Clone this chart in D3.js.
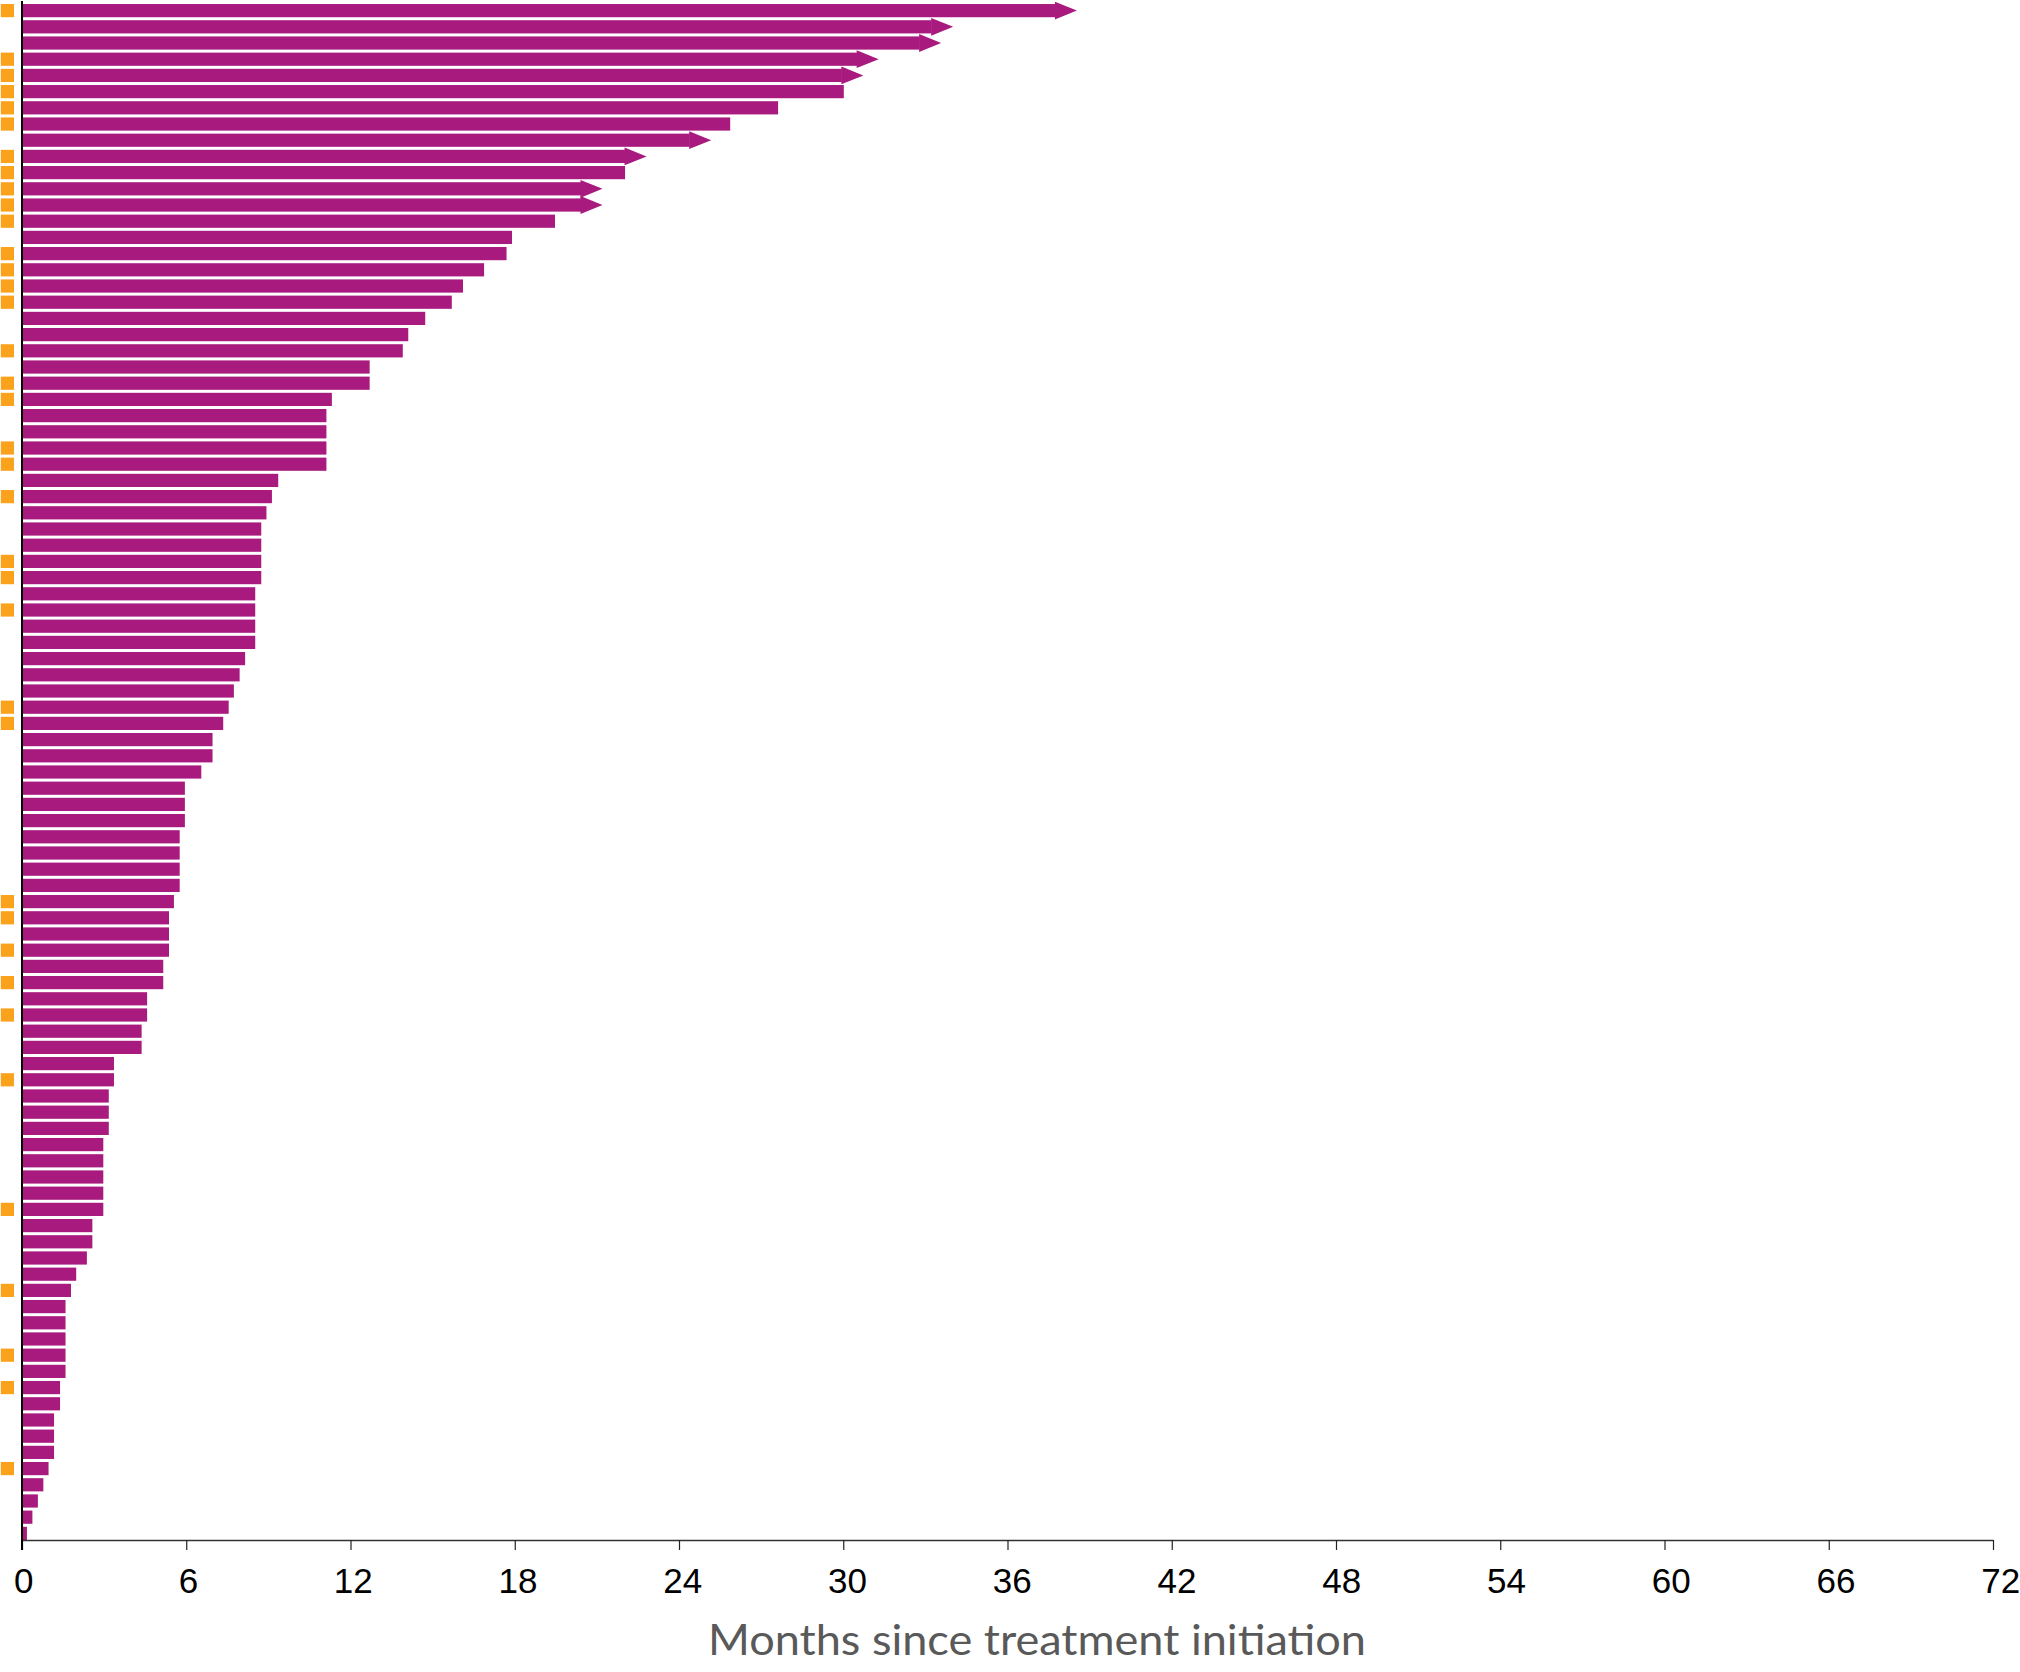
<!DOCTYPE html>
<html>
<head>
<meta charset="utf-8">
<script src="https://cdn.jsdelivr.net/npm/d3@7"></script>
<style>
  html, body { margin: 0; padding: 0; background: #ffffff; }
  svg { display: block; }
</style>
</head>
<body>
<svg id="chart" width="2020" height="1672"></svg>
<script>
// ---------------- DATA ----------------
// Duration (months since treatment initiation) per patient, top to bottom
const months = [
  37.75, 33.23, 32.79, 30.51, 29.95, 30.02, 27.62, 25.87, 24.39, 22.03,
  22.03, 20.42, 20.42, 19.47, 17.90, 17.70, 16.88, 16.11, 15.70, 14.73,
  14.11, 13.91, 12.70, 12.70, 11.32, 11.12, 11.12, 11.12, 11.12, 9.36,
  9.13, 8.93, 8.74, 8.74, 8.74, 8.74, 8.52, 8.52, 8.52, 8.52,
  8.15, 7.95, 7.74, 7.55, 7.35, 6.96, 6.96, 6.55, 5.95, 5.95,
  5.95, 5.76, 5.76, 5.76, 5.76, 5.55, 5.37, 5.37, 5.37, 5.16,
  5.16, 4.57, 4.57, 4.37, 4.37, 3.36, 3.36, 3.17, 3.17, 3.17,
  2.97, 2.97, 2.97, 2.97, 2.97, 2.57, 2.57, 2.37, 1.98, 1.79,
  1.59, 1.59, 1.59, 1.59, 1.59, 1.39, 1.39, 1.17, 1.17, 1.17,
  0.97, 0.78, 0.58, 0.38, 0.18
];
// Rows whose treatment is ongoing (drawn with an arrow head)
const ongoingRows = [0, 1, 2, 3, 4, 8, 9, 11, 12];
// Rows flagged with an orange square marker
const markedRows = [0, 3, 4, 5, 6, 7, 9, 10, 11, 12, 13, 15, 16, 17, 18, 21, 23, 24,
  27, 28, 30, 34, 35, 37, 43, 44, 55, 56, 58, 60, 62, 66, 74, 79, 83, 85, 90];
// X-axis tick labels
const xTicks = [0, 6, 12, 18, 24, 30, 36, 42, 48, 54, 60, 66, 72];
const xTitle = "Months since treatment initiation";

// ---------------- STYLE ----------------
const barColor = "#a91a7f";
const markerColor = "#faa21c";

// ---------------- SCALES ----------------
const rows = months.map((m, i) => ({ i, m, ongoing: ongoingRows.includes(i), marked: markedRows.includes(i) }));

const x = d3.scaleLinear().domain([0, 72]).range([22, 1993]);
const xLabel = d3.scaleLinear().domain([0, 72]).range([23.2, 2000.3]);
const y = d3.scaleBand()
  .domain(rows.map(d => d.i))
  .range([2.4, 1541.6])
  .paddingInner(0.185)
  .paddingOuter(0.1);

const svg = d3.select("#chart");
const axisY = 1540;
const bw = y.bandwidth();

// ---------------- BARS ----------------
svg.append("g").selectAll("rect")
  .data(rows)
  .join("rect")
  .attr("x", x(0))
  .attr("y", d => y(d.i))
  .attr("width", d => x(d.m) - x(0))
  .attr("height", bw)
  .attr("fill", barColor);

// Arrow heads for ongoing treatment
const headLen = 22, overhang = 2.3;
svg.append("g").selectAll("path")
  .data(rows.filter(d => d.ongoing))
  .join("path")
  .attr("d", d => {
    const x0 = x(d.m) - 0.5, yt = y(d.i), yb = yt + bw;
    return `M${x0},${yt - overhang} L${x0 + headLen},${yt + bw / 2} L${x0},${yb + overhang} Z`;
  })
  .attr("fill", barColor);

// Orange markers left of axis
svg.append("g").selectAll("rect")
  .data(rows.filter(d => d.marked))
  .join("rect")
  .attr("x", 0.8)
  .attr("y", d => y(d.i))
  .attr("width", bw)
  .attr("height", bw)
  .attr("fill", markerColor);

// ---------------- X AXIS ----------------
const gx = svg.append("g")
  .attr("transform", `translate(0,${axisY})`)
  .call(d3.axisBottom(x).tickValues(xTicks).tickSize(10).tickSizeOuter(0).tickFormat(d3.format("d")));
gx.select(".domain").attr("stroke", "#333").attr("stroke-width", 1.6);
gx.selectAll(".tick line").attr("stroke", "#222").attr("stroke-width", 1.2);
gx.selectAll(".tick text")
  .attr("dx", d => xLabel(d) - x(d))
  .attr("y", 53)
  .attr("dy", null)
  .attr("fill", "#000")
  .style("font-family", "'Liberation Sans', Arial, sans-serif")
  .style("font-size", "35px");

// ---------------- Y AXIS LINE ----------------
svg.append("line")
  .attr("x1", x(0)).attr("x2", x(0))
  .attr("y1", 1).attr("y2", axisY + 10)
  .attr("stroke", "#000")
  .attr("stroke-width", 2);

// ---------------- TITLE ----------------
svg.append("text")
  .attr("x", 1037)
  .attr("y", 1655)
  .attr("text-anchor", "middle")
  .attr("textLength", 658)
  .attr("lengthAdjust", "spacingAndGlyphs")
  .attr("fill", "#595959")
  .style("font-family", "Lato, 'Noto Sans', sans-serif")
  .style("font-size", "42px")
  .text(xTitle);
</script>
</body>
</html>
